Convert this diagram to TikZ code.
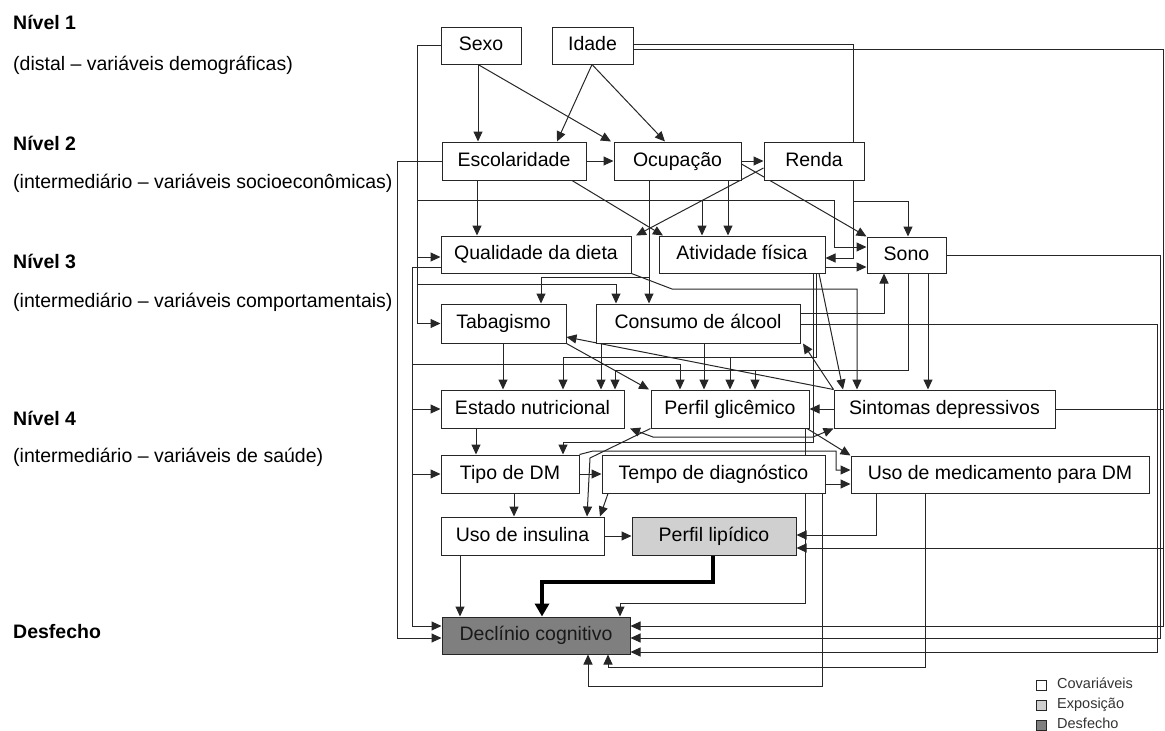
\documentclass[tikz,border=0pt]{standalone}
\usepackage{fontspec}
\setmainfont{Liberation Sans}
\usepackage{tikz}
\usetikzlibrary{arrows.meta, backgrounds, positioning}
\definecolor{lipgray}{HTML}{D0D0D0}
\definecolor{decgray}{HTML}{7F7F7F}
\definecolor{linegray}{HTML}{262626}
\tikzset{
  box/.style={draw=linegray, line width=1pt, fill=white, inner sep=0pt,
    text height=14pt, text depth=4pt, font=\fontsize{19.5}{23}\selectfont},
  lvl/.style={anchor=west, inner sep=0pt, font=\fontsize{19.5}{23}\selectfont},
  legsq/.style={draw=linegray, line width=0.7pt, minimum size=10pt, inner sep=0pt},
  legtxt/.style={anchor=west, inner sep=0pt, text height=10.5pt, text depth=3pt,
    text=black!80, font=\fontsize{14.5}{17}\selectfont},
  ln/.style={draw=linegray, line width=1pt},
  arr/.style={ln, -{Triangle[length=10pt,width=9pt]}},
  darr/.style={ln, {Triangle[length=10pt,width=9pt]}-{Triangle[length=10pt,width=9pt]}},
  bigarr/.style={draw=black, line width=4pt, -{Triangle[length=13pt,width=14pt]}},
}

\begin{document}
\begin{tikzpicture}[x=1pt,y=-1pt]
\useasboundingbox (0,0) rectangle (1165,731);

% level labels
\node[lvl] (n1) at (13,22) {\textbf{Nível 1}};
\node[lvl] (n1t) at (13,65) {(distal – variáveis demográficas)};
\node[lvl] (n2) at (13,143) {\textbf{Nível 2}};
\node[lvl] (n2t) at (13,183) {(intermediário – variáveis socioeconômicas)};
\node[lvl] (n3) at (13,261) {\textbf{Nível 3}};
\node[lvl] (n3t) at (13,302) {(intermediário – variáveis comportamentais)};
\node[lvl] (n4) at (13,418) {\textbf{Nível 4}};
\node[lvl] (n4t) at (13,457) {(intermediário – variáveis de saúde)};
\node[lvl] (nd) at (13,632) {\textbf{Desfecho}};

% boxes
\node[box, minimum width=80pt, minimum height=37pt] (sexo) at (481,45.5) {Sexo};
\node[box, minimum width=81pt, minimum height=37pt] (idade) at (592.5,45.5) {Idade};
\node[box, minimum width=144pt, minimum height=38pt] (escol) at (514,161) {Escolaridade};
\node[box, minimum width=127pt, minimum height=38pt] (ocup) at (677.5,161) {Ocupação};
\node[box, minimum width=100pt, minimum height=38pt] (renda) at (814,161) {Renda};
\node[box, minimum width=190pt, minimum height=37pt] (dieta) at (536,254.5) {Qualidade da dieta};
\node[box, minimum width=166pt, minimum height=37pt] (ativ) at (742,254.5) {Atividade física};
\node[box, minimum width=79pt, minimum height=36pt] (sono) at (906.5,255) {Sono};
\node[box, minimum width=125pt, minimum height=39pt] (tabag) at (503.5,323.5) {Tabagismo};
\node[box, minimum width=204pt, minimum height=39pt] (alcool) at (698,323.5) {Consumo de álcool};
\node[box, minimum width=183pt, minimum height=38pt] (nutri) at (532.5,409) {Estado nutricional};
\node[box, minimum width=158pt, minimum height=38pt] (glic) at (730,409) {Perfil glicêmico};
\node[box, minimum width=221pt, minimum height=38pt] (depr) at (944.5,409) {Sintomas depressivos};
\node[box, minimum width=138pt, minimum height=38pt] (tipo) at (510,474) {Tipo de DM};
\node[box, minimum width=223pt, minimum height=38pt] (tempo) at (713.5,474) {Tempo de diagnóstico};
\node[box, minimum width=298pt, minimum height=37pt] (medic) at (1000,474.5) {Uso de medicamento para DM};
\node[box, minimum width=163pt, minimum height=38pt] (insul) at (522.5,536) {Uso de insulina};
\node[box, minimum width=164pt, minimum height=38pt, fill=lipgray] (lipid) at (714,536) {Perfil lipídico};
\node[box, minimum width=188pt, minimum height=37pt, fill=decgray, text=black!90] (declin) at (536,635.5) {Declínio cognitivo};

% legend
\node[legsq, fill=white] (legcov) at (1041,685) {};
\node[legtxt] (legcovt) at (1057,685) {Covariáveis};
\node[legsq, fill=lipgray] (legexp) at (1041,705) {};
\node[legtxt] (legexpt) at (1057,705) {Exposição};
\node[legsq, fill=decgray] (legdes) at (1041,725) {};
\node[legtxt] (legdest) at (1057,725) {Desfecho};

\begin{scope}[on background layer]
% Sexo
\draw[arr] (478,0 |- sexo.south) -- (478,0 |- escol.north);
\draw[arr] (478,0 |- sexo.south) -- (611,0 |- ocup.north);
\draw[arr] (sexo.west) -| (417,0 |- tabag.west) -- (tabag.west);
\draw[arr] (417,257) -- (dieta.west |- 0,257);
\draw[arr] (417,284) -| (616,0 |- alcool.north);
\draw[arr] (417,200) -| (702,0 |- ativ.north);
\draw[arr] (702,200) -| (834,247) -- (sono.west |- 0,247);
% Idade
\draw[arr] (592,0 |- idade.south) -- (557,0 |- escol.north);
\draw[arr] (592,0 |- idade.south) -- (665,0 |- ocup.north);
\draw[arr] (idade.east |- 0,49) -| (1163,626) -- (declin.east |- 0,626);
\draw[arr] (idade.east |- 0,44) -| (853,258) -- (ativ.east |- 0,258);
\draw[arr] (853,201) -| (908,0 |- sono.north);
% Escolaridade
\draw[arr] (escol.east) -- (ocup.west);
\draw[arr] (escol.west) -| (397,638) -- (declin.west |- 0,638);
\draw[arr] (477,0 |- escol.south) -- (477,0 |- dieta.north);
\draw[arr] (572,0 |- escol.south) -- (663,0 |- ativ.north);
% Ocupacao
\draw[arr] (ocup.east) -- (renda.west);
\draw[arr] (649,0 |- ocup.south) -- (649,0 |- alcool.north);
\draw[arr] (649,277) -| (541,0 |- tabag.north);
\draw[arr] (728,0 |- ocup.south) -- (728,0 |- ativ.north);
\draw[arr] (ocup.east |- 0,164) -- (sono.north west);
% Renda
\draw[arr] (renda.west |- 0,168) -- (636,0 |- dieta.north);
% Qualidade da dieta
\draw[arr] (dieta.west |- 0,267) -| (412,626) -- (declin.west |- 0,626);
\draw[arr] (412,364) -| (680,0 |- glic.north);
\draw[arr] (412,0 |- nutri.west) -- (nutri.west);
\draw[arr] (412,0 |- tipo.west) -- (tipo.west);
\draw[arr] (dieta.south east) -- (672,289) -| (857,0 |- depr.north);
% Atividade fisica
\draw[arr] (ativ.east |- 0,267) -- (sono.west |- 0,267);
\draw[arr] (816,0 |- ativ.south) |- (563,357) -- (563,0 |- nutri.north);
\draw[arr] (730,357) -- (730,0 |- glic.north);
\draw[arr] (813,0 |- ativ.south) |- (563,442) -- (563,0 |- tipo.north);
\draw[arr] (819,0 |- ativ.south) -- (843,0 |- depr.north);
% Sono
\draw[arr] (928,0 |- sono.south) -- (928,0 |- depr.north);
\draw[arr] (908,0 |- sono.south) |- (615,370) -- (615,0 |- nutri.north);
\draw[arr] (755,370) -- (755,0 |- glic.north);
\draw[arr] (sono.east) -| (1160,638) -- (declin.east |- 0,638);
% Tabagismo
\draw[arr] (503,0 |- tabag.south) -- (503,0 |- nutri.north);
\draw[arr] (tabag.south east) -- (649,0 |- glic.north);
% Consumo de alcool
\draw[arr] (601,0 |- alcool.south) -- (601,0 |- nutri.north);
\draw[arr] (704,0 |- alcool.south) -- (704,0 |- glic.north);
\draw[arr] (alcool.east |- 0,313) -| (884,0 |- sono.south);
\draw[arr] (alcool.east |- 0,324) -| (1157,652) -- (declin.east |- 0,652);
% Sintomas depressivos
\draw[arr] (depr.north west) -- (tabag.east |- 0,337);
\draw[arr] (depr.north west) -- (803,0 |- alcool.south);
\draw[arr] (depr.west) -- (glic.east);
\draw[arr] (depr.east) -| (1163,548) -- (lipid.east |- 0,548);
\draw[darr] (630,0 |- nutri.south) -- (653,437) -- (813,437) -- (depr.south west);
% Estado nutricional, Perfil glicemico
\draw[arr] (476,0 |- nutri.south) -- (476,0 |- tipo.north);
\draw[arr] (glic.south west) -- (590,458) -- (587,0 |- insul.north);
\draw[arr] (807,0 |- glic.south) -- (medic.north west);
\draw[arr] (805,0 |- glic.south) |- (620,603) -- (620,0 |- declin.north);
% Tipo de DM, Tempo, Uso de medicamento
\draw[arr] (tipo.east) -- (tempo.west);
\draw[arr] (514,0 |- tipo.south) -- (514,0 |- insul.north);
\draw[arr] (tipo.north east) -- (593,451) -| (836,470) -- (medic.west |- 0,470);
\draw[arr] (tempo.east |- 0,484) -- (medic.west |- 0,484);
\draw[arr] (608,0 |- tempo.south) -- (600,0 |- insul.north);
\draw[arr] (822,0 |- tempo.south) |- (588,686) -- (588,0 |- declin.south);
\draw[arr] (876,0 |- medic.south) |- (lipid.east |- 0,535);
\draw[arr] (925,0 |- medic.south) |- (608,667) -- (608,0 |- declin.south);
% Uso de insulina, Perfil lipidico
\draw[arr] (insul.east) -- (lipid.west);
\draw[arr] (460,0 |- insul.south) -- (460,0 |- declin.north);
\draw[bigarr] (713,0 |- lipid.south) |- (542,582) -- (542,0 |- declin.north);
\end{scope}
\end{tikzpicture}
\end{document}
